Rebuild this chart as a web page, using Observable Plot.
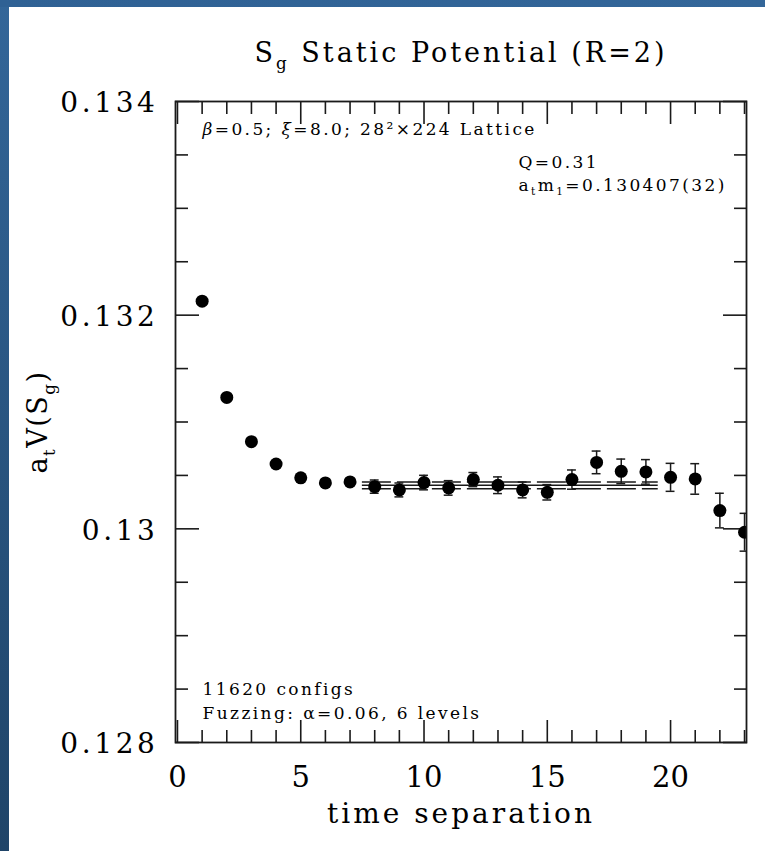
<!DOCTYPE html>
<html><head><meta charset="utf-8">
<script src="https://cdn.jsdelivr.net/npm/d3@7"></script>
<script src="https://cdn.jsdelivr.net/npm/@observablehq/plot@0.6"></script>
<style>
html,body{margin:0;padding:0;background:#fff;}
#wrap{position:relative;width:765px;height:851px;overflow:hidden;background:#fff;}
#bl{position:absolute;left:0;top:0;width:9px;height:851px;background:linear-gradient(to bottom,#336699,#1f4468);}
#bt{position:absolute;left:0;top:0;width:765px;height:7px;background:linear-gradient(to right,#2f6194,#336699);}
svg{display:block}
g[aria-label="y-axis tick label"] text{letter-spacing:3.6px}
text[aria-label="title"]{letter-spacing:3px}
text[aria-label="axis-title"]{letter-spacing:3px}
text[aria-label="y-title"]{letter-spacing:1.5px}
text[aria-label="annotation"]{letter-spacing:2.4px}
</style></head><body><div id="wrap"><div id="bl"></div><div id="bt"></div></div>
<script>
// ---- data ----
const times = [1,2,3,4,5,6,7,8,9,10,11,12,13,14,15,16,17,18,19,20,21,22,23];
const values = [0.132131,0.131230,0.130816,0.130607,0.130477,0.130430,0.130439,0.130395,0.130364,0.130433,0.130383,0.130461,0.130408,0.130364,0.130342,0.130461,0.130622,0.130538,0.130533,0.130482,0.130467,0.130171,0.129968];
const errors = [0.00002,0.00002,0.00002,0.000025,0.000025,0.00003,0.00003,0.000062,0.000065,0.000068,0.000068,0.000066,0.000078,0.000074,0.000072,0.00009,0.000106,0.000115,0.000115,0.000131,0.000143,0.000162,0.000177];
const fitValue = [0.130407];
const fitError = [0.000032];
const fitRange = [8, 19];
const xMajorTicks = [0,5,10,15,20];
const xMinorTicks = [1,2,3,4,6,7,8,9,11,12,13,14,16,17,18,19,21,22,23];
const yMajorTicks = [0.128,0.130,0.132,0.134];
const yTickLabels = ["0.128","0.13","0.132","0.134"];
const yMinorTicks = [0.1285,0.129,0.1295,0.1305,0.131,0.1315,0.1325,0.133,0.1335];
const titleText = ["S_{g} Static Potential (R=2)"];
const xTitle = ["time separation"];
const yTitle = ["a_{t}V(S_{g})"];
const topLeftNote = ["~{β}=0.5; ~{ξ}=8.0; 28²×224 Lattice"];
const topRightNotes = ["Q=0.31", "a_{t}m_{1}=0.130407(32)"];
const bottomNotes = ["11620 configs", "Fuzzing: α=0.06, 6 levels"];

const pts = times.map((t, i) => ({t, v: values[i], e: errors[i]}));
const ink = "#1a1a1a";
const tk = {fill: "none", stroke: ink, strokeWidth: 1.6, label: null};
const note = {text: d => d, textAnchor: "start", fontSize: 17, ariaLabel: () => "annotation"};

const chart = Plot.plot({
  width: 765, height: 851,
  marginLeft: 175, marginRight: 19, marginTop: 101, marginBottom: 109,
  style: {background: "transparent", fontFamily: "'DejaVu Serif', serif", color: "black"},
  x: {domain: [-0.08, 23.08]},
  y: {domain: [0.128, 0.134]},
  marks: [
    // ticks (inward, all four sides)
    Plot.axisX(xMajorTicks, {anchor: "bottom", tickSize: -22, ...tk}),
    Plot.axisX(xMinorTicks, {anchor: "bottom", tickSize: -12, ...tk}),
    Plot.axisX(xMajorTicks, {anchor: "top", tickSize: -22, ...tk}),
    Plot.axisX(xMinorTicks, {anchor: "top", tickSize: -12, ...tk}),
    Plot.axisY(yMajorTicks, {anchor: "left", tickSize: -24, ...tk}),
    Plot.axisY(yMinorTicks, {anchor: "left", tickSize: -13, ...tk}),
    Plot.axisY(yMajorTicks, {anchor: "right", tickSize: -24, ...tk}),
    Plot.axisY(yMinorTicks, {anchor: "right", tickSize: -13, ...tk}),
    // tick labels
    Plot.axisX(xMajorTicks, {anchor: "bottom", tickSize: 0, tickPadding: 24, fontSize: 29, label: null}),
    Plot.axisY(yMajorTicks, {anchor: "left", tickSize: 0, tickPadding: 17, dy: 2, fontSize: 28, label: null,
      tickFormat: d => yTickLabels[yMajorTicks.indexOf(d)]}),
    // fit band
    Plot.ruleY(fitValue, {y: d => d, x1: fitRange[0] - 0.5, x2: fitRange[1] + 0.5, stroke: ink, strokeWidth: 1.5}),
    Plot.ruleY([fitValue[0] + fitError[0], fitValue[0] - fitError[0]], {y: d => d, x1: fitRange[0] - 0.5, x2: fitRange[1] + 0.5, stroke: ink, strokeWidth: 1.5, strokeDasharray: "29,6"}),
    // error bars
    Plot.ruleX(pts, {x: "t", y1: d => d.v - d.e, y2: d => d.v + d.e, stroke: ink, strokeWidth: 1.5, clip: true}),
    Plot.ruleY(pts, {y: d => d.v + d.e, x1: d => d.t - 0.18, x2: d => d.t + 0.18, stroke: ink, strokeWidth: 1.5, clip: true}),
    Plot.ruleY(pts, {y: d => d.v - d.e, x1: d => d.t - 0.18, x2: d => d.t + 0.18, stroke: ink, strokeWidth: 1.5, clip: true}),
    // points
    Plot.dot(pts, {x: "t", y: "v", r: 6.5, fill: "black", stroke: "none", clip: true}),
    Plot.frame({stroke: ink, strokeWidth: 1.8}),
    // texts
    Plot.text(titleText, {text: d => d, frameAnchor: "top", textAnchor: "middle", dy: -59, dx: 0, fontSize: 27, ariaLabel: () => "title"}),
    Plot.text(xTitle, {text: d => d, frameAnchor: "bottom", textAnchor: "middle", dy: 80, fontSize: 28, ariaLabel: () => "axis-title"}),
    Plot.text(yTitle, {text: d => d, frameAnchor: "left", textAnchor: "middle", dx: -137, dy: 0, rotate: -90, fontSize: 27, ariaLabel: () => "y-title"}),
    Plot.text(topLeftNote, {...note, frameAnchor: "top-left", dx: 27, dy: 21}),
    Plot.text([topRightNotes[0]], {...note, frameAnchor: "top-left", dx: 343, dy: 54}),
    Plot.text([topRightNotes[1]], {...note, frameAnchor: "top-left", dx: 343, dy: 77}),
    Plot.text([bottomNotes[0]], {...note, frameAnchor: "bottom-left", dx: 27, dy: -48}),
    Plot.text([bottomNotes[1]], {...note, frameAnchor: "bottom-left", dx: 27, dy: -24})
  ]
});

document.getElementById("wrap").prepend(chart);

// sub/italic markup
const svgNS = "http://www.w3.org/2000/svg";
d3.select(chart).selectAll("text").each(function() {
  const s = this.textContent;
  if (!/[_~]\{/.test(s)) return;
  const fs = parseFloat(getComputedStyle(this).fontSize) || 16;
  this.textContent = "";
  const re = /([_~])\{([^}]*)\}/g;
  let last = 0, m, shift = 0;
  const add = (txt, kind) => {
    if (!txt) return;
    const ts = document.createElementNS(svgNS, "tspan");
    ts.textContent = txt;
    if (kind === "_") {
      ts.setAttribute("font-size", (0.62 * fs).toFixed(1));
      const target = 0.28 * fs;
      ts.setAttribute("dy", (target - shift).toFixed(1));
      shift = target;
    } else {
      if (shift) { ts.setAttribute("dy", (-shift).toFixed(1)); shift = 0; }
      if (kind === "~") ts.setAttribute("font-style", "italic");
    }
    this.appendChild(ts);
  };
  while ((m = re.exec(s))) {
    add(s.slice(last, m.index), "");
    add(m[2], m[1]);
    last = re.lastIndex;
  }
  add(s.slice(last), "");
});
</script>
</body></html>
